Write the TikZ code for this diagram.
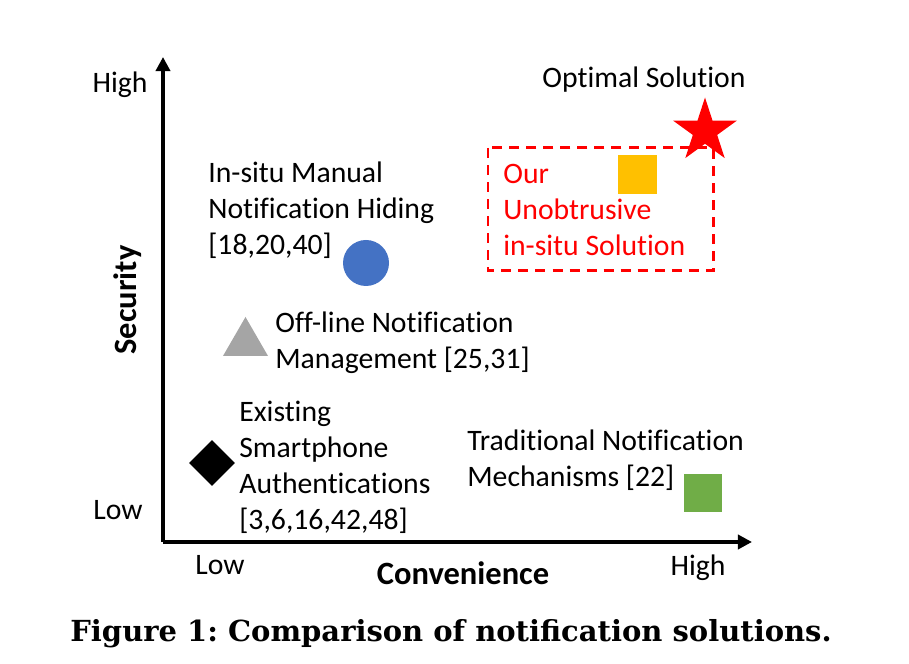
\documentclass[tikz,border=0pt]{standalone}
\usepackage{fontspec}
\newfontfamily\calfont{Carlito}[Ligatures=CommonOff]
\newfontfamily\capfont{DejaVu Serif}
\usetikzlibrary{shapes.geometric,arrows.meta}
\definecolor{markblue}{HTML}{4472C4}
\definecolor{markgray}{HTML}{A5A5A5}
\definecolor{markgreen}{HTML}{70AD47}
\definecolor{markorange}{HTML}{FFC000}
\tikzset{
  lbl/.style={inner sep=0pt,align=left,anchor=west,font=\calfont\fontsize{16.9}{20.5}\selectfont},
  marker/.style={inner sep=0pt,draw=none},
  axis/.style={line width=2.3pt,-{Triangle[width=8pt,length=8pt]}}
}
\begin{document}
\frenchspacing
\begin{tikzpicture}
\useasboundingbox (0,0) rectangle (18.18,13.28);
% axes
\coordinate (o) at (3.26,2.44);
\coordinate (ytip) at (3.26,12.14);
\coordinate (xtip) at (15.04,2.44);
\draw[axis] (o)--(ytip);
\draw[axis] (o)--(xtip);
\node[lbl,anchor=center] (yhigh) at (2.40,11.58) {High};
\node[lbl,anchor=center] (ylow) at (2.36,3.08) {Low};
\node[lbl,anchor=center] (xlow) at (4.40,1.98) {Low};
\node[lbl,anchor=center] (xhigh) at (13.96,1.92) {High};
\node[lbl,anchor=center,font=\calfont\fontsize{18.5}{22}\selectfont\bfseries,rotate=90] (sec) at (2.56,7.28) {Security};
\node[lbl,anchor=center,font=\calfont\fontsize{18.5}{22}\selectfont\bfseries] (conv) at (9.26,1.82) {Convenience};
% markers
\node[marker,circle,fill=markblue,minimum size=0.92cm] (manual) at (7.32,8.02) {};
\node[marker,regular polygon,regular polygon sides=3,fill=markgray,minimum size=1.04cm] (offline) at (4.91,6.42) {};
\node[marker,diamond,fill=black,minimum width=0.92cm,minimum height=0.92cm] (auth) at (4.24,4.02) {};
\node[marker,rectangle,fill=markgreen,minimum size=0.76cm] (trad) at (14.06,3.42) {};
\node[marker,rectangle,fill=markorange,minimum size=0.78cm] (ours) at (12.74,9.78) {};
\node[marker,star,star points=5,star point ratio=2.618,fill=red,minimum size=1.34cm] (optimal) at (14.10,10.66) {};
\draw[red,line width=1.7pt,dash pattern=on 5.7pt off 4pt] (9.76,10.32) rectangle (14.26,7.86);
% labels
\node[lbl] (manuallbl) at (4.16,9.08) {In-situ Manual\\Notification Hiding\\{[18,20,40]}};
\node[lbl] (offlinelbl) at (5.50,6.42) {Off-line Notification\\Management [25,31]};
\node[lbl] (authlbl) at (4.78,3.93) {Existing\\Smartphone\\Authentications\\{[3,6,16,42,48]}};
\node[lbl] (tradlbl) at (9.34,4.08) {Traditional Notification\\Mechanisms [22]};
\node[lbl,text=red] (ourslbl) at (10.06,9.08) {Our\\Unobtrusive\\in-situ Solution};
\node[lbl,anchor=center] (optimallbl) at (12.88,11.68) {Optimal Solution};
% caption
\node[inner sep=0pt,font=\capfont\bfseries\fontsize{16.5}{20}\selectfont] (caption) at (9.02,0.60) {Figure 1: Comparison of notification solutions.};
\end{tikzpicture}
\end{document}
